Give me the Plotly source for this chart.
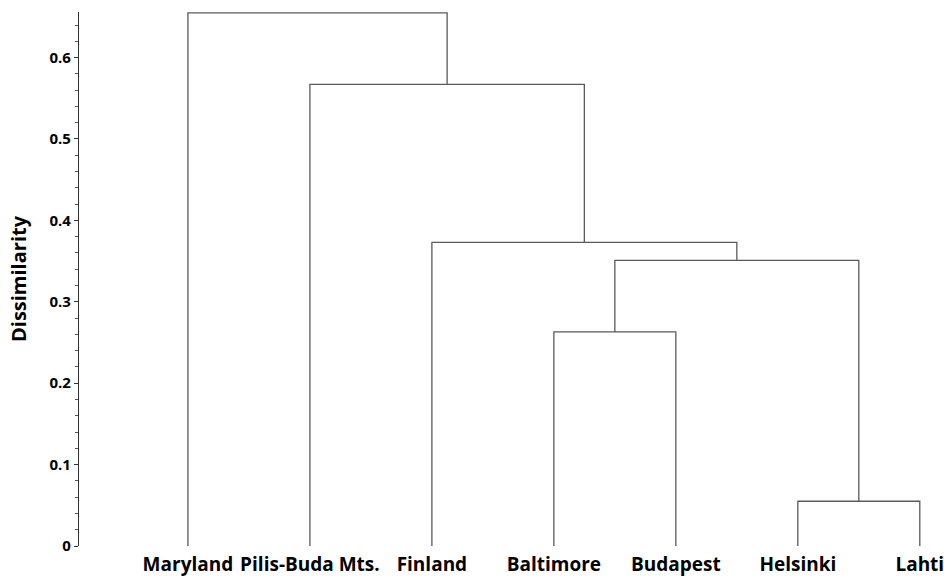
import plotly.graph_objects as go

leaves = ["Maryland", "Pilis-Buda Mts.", "Finland", "Baltimore", "Budapest", "Helsinki", "Lahti"]
# merges: children indices (leaves 0..6, clusters 7..), merge heights
merge_left = [5, 3, 8, 2, 1, 0]
merge_right = [6, 4, 7, 9, 10, 11]
merge_height = [0.055, 0.263, 0.351, 0.373, 0.567, 0.655]

leaf_pos = list(range(1, len(leaves) + 1))
node_x = {i: leaf_pos[i] for i in range(len(leaves))}
node_h = {i: 0.0 for i in range(len(leaves))}

xs, ys = [], []
for k, (a, b, h) in enumerate(zip(merge_left, merge_right, merge_height)):
    nid = len(leaves) + k
    xa, xb = node_x[a], node_x[b]
    xs += [xa, xa, xb, xb, None]
    ys += [node_h[a], h, h, node_h[b], None]
    node_x[nid] = (xa + xb) / 2
    node_h[nid] = h

fig = go.Figure()
fig.add_trace(go.Scatter(x=xs, y=ys, mode="lines",
                         line=dict(color="#5a5a5a", width=1.3),
                         hoverinfo="skip", showlegend=False, cliponaxis=False))

font = "Open Sans"
fig.update_layout(
    width=944, height=577,
    margin=dict(l=79, r=12, t=12, b=31),
    paper_bgcolor="white", plot_bgcolor="white",
    showlegend=False,
    xaxis=dict(range=[0.107, 7.1], tickvals=leaf_pos, ticktext=leaves,
               automargin=False, ticklabeloverflow="allow",
               showline=False, showgrid=False, zeroline=False,
               ticks="outside", ticklen=1, tickcolor="rgba(0,0,0,0)",
               tickfont=dict(family=font, size=19, color="black", weight="bold")),
    yaxis=dict(range=[0, 0.656], tickvals=[0, 0.1, 0.2, 0.3, 0.4, 0.5, 0.6],
               ticktext=["0", "0.1", "0.2", "0.3", "0.4", "0.5", "0.6"],
               automargin=False,
               showline=True, linecolor="#333333", linewidth=1.2,
               showgrid=False, zeroline=False, ticks="outside", ticklen=4,
               tickcolor="#333333", tickwidth=1,
               minor=dict(dtick=0.02, ticks="outside", ticklen=2.5, tickcolor="#555555"),
               tickfont=dict(family=font, size=15, color="black", weight="bold"),
               title=dict(text="Dissimilarity", standoff=17,
                          font=dict(family=font, size=20, color="black", weight="bold"))),
)

fig.write_html("out.html", config={"displayModeBar": False},
               post_script="document.body.style.margin='0';document.body.style.overflow='hidden';")
